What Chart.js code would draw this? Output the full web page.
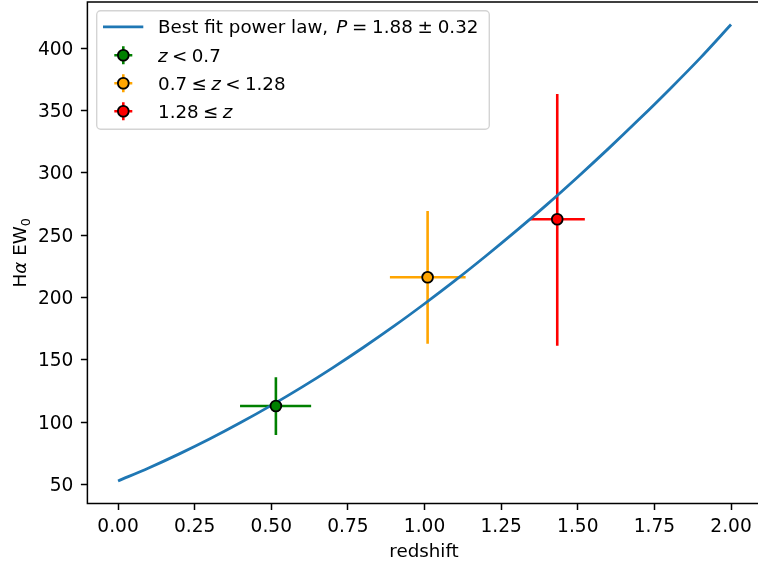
<!DOCTYPE html>
<html>
<head>
<meta charset="utf-8">
<title>Hα EW0 vs redshift</title>
<script src="https://cdn.jsdelivr.net/npm/chart.js@4.4.1/dist/chart.umd.min.js"></script>
<style>
  html, body { margin: 0; padding: 0; background: #fff; overflow: hidden; }
  #wrap { width: 758px; height: 563px; }
</style>
</head>
<body>
<div id="wrap"><canvas id="c" width="758" height="563"></canvas></div>
<script>
// Best-fit power-law curve, sampled along redshift
const fitZ  = [0.0, 0.1, 0.2, 0.3, 0.4, 0.5, 0.6, 0.7, 0.8, 0.9, 1.0,
               1.1, 1.2, 1.3, 1.4, 1.5, 1.6, 1.7, 1.8, 1.9, 2.0];
const fitEW = [53.0, 63.4, 74.7, 86.8, 99.8, 113.6, 128.2, 143.7, 160.0, 177.1, 195.1,
               213.8, 233.4, 253.7, 274.8, 296.8, 319.5, 343.0, 367.2, 392.3, 419.0];

// Binned measurements with their error ranges
const binZ    = [0.515, 1.010, 1.433];
const binEW   = [113.1, 216.3, 262.9];
const binZLo  = [0.398, 0.887, 1.344];
const binZHi  = [0.630, 1.134, 1.523];
const binEWLo = [89.9, 163.1, 161.5];
const binEWHi = [136.1, 269.5, 363.4];
const binColors = ['#008000', '#ffa500', '#ff0000'];

// Legend entries as text runs (i = italic, gap = space in px)
const fitLabel = [{t: 'Best fit power law,'}, {gap: 8}, {t: 'P', i: true}, {gap: 4.8}, {t: '='}, {gap: 4.8},
                  {t: '1.88'}, {gap: 4.8}, {t: '±'}, {gap: 4.8}, {t: '0.32'}];
const binLabels = [
  [{t: 'z', i: true}, {gap: 4.4}, {t: '<'}, {gap: 4.4}, {t: '0.7'}],
  [{t: '0.7'}, {gap: 4.4}, {t: '≤'}, {gap: 4.4}, {t: 'z', i: true}, {gap: 4.4}, {t: '<'}, {gap: 4.4}, {t: '1.28'}],
  [{t: '1.28'}, {gap: 4.4}, {t: '≤'}, {gap: 4.4}, {t: 'z', i: true}]
];

// Axis ranges, ticks and titles
const xMin = -0.1, xMax = 2.088;
const yMin = 34.9, yMax = 437.1;
const xTicks = [0, 0.25, 0.5, 0.75, 1.0, 1.25, 1.5, 1.75, 2.0];
const xTickLabels = ['0.00', '0.25', '0.50', '0.75', '1.00', '1.25', '1.50', '1.75', '2.00'];
const yTicks = [50, 100, 150, 200, 250, 300, 350, 400];
const yTickLabels = ['50', '100', '150', '200', '250', '300', '350', '400'];
const xTitle = 'redshift';
const yTitle = [{t: 'H'}, {t: 'α', i: true}, {t: ' EW'}, {t: '0', sub: true}];

const FONT = 'DejaVu Sans';
const FS = 18.3;

function fontFor(run, size) {
  return (run.i ? 'italic ' : '') + size + 'px "' + FONT + '"';
}
function runsWidth(ctx, runs) {
  let w = 0;
  for (const r of runs) {
    if (r.gap) { w += r.gap; continue; }
    ctx.font = fontFor(r, r.sub ? FS * 0.7 : FS);
    w += ctx.measureText(r.t).width;
  }
  return w;
}
function drawRuns(ctx, runs, x, y) {
  ctx.textBaseline = 'alphabetic';
  ctx.textAlign = 'left';
  for (const r of runs) {
    if (r.gap) { x += r.gap; continue; }
    const size = r.sub ? FS * 0.7 : FS;
    ctx.font = fontFor(r, size);
    ctx.fillText(r.t, x, y + (r.sub ? FS * 0.22 : 0));
    x += ctx.measureText(r.t).width;
  }
}

// Error bars sit beneath the markers and the fit curve
const errorBars = {
  id: 'errorBars',
  beforeDatasetsDraw(chart) {
    const {ctx, chartArea: a, scales: {x, y}} = chart;
    ctx.save();
    ctx.beginPath();
    ctx.rect(a.left, a.top, a.right - a.left, a.bottom - a.top);
    ctx.clip();
    ctx.lineWidth = 2.6;
    ctx.lineCap = 'butt';
    binZ.forEach((z, k) => {
      ctx.strokeStyle = binColors[k];
      const px = x.getPixelForValue(z), py = y.getPixelForValue(binEW[k]);
      ctx.beginPath();
      ctx.moveTo(x.getPixelForValue(binZLo[k]), py);
      ctx.lineTo(x.getPixelForValue(binZHi[k]), py);
      ctx.moveTo(px, y.getPixelForValue(binEWLo[k]));
      ctx.lineTo(px, y.getPixelForValue(binEWHi[k]));
      ctx.stroke();
    });
    ctx.restore();
  }
};

// Spines, axis titles and the framed legend
const frameAndLegend = {
  id: 'frameAndLegend',
  afterDatasetsDraw(chart) {
    const {ctx, chartArea: a} = chart;
    ctx.save();
    ctx.strokeStyle = '#000';
    ctx.lineWidth = 1.5;
    ctx.lineCap = 'square';
    ctx.beginPath();
    ctx.moveTo(a.right + 2, a.top);
    ctx.lineTo(a.left, a.top);
    ctx.lineTo(a.left, a.bottom);
    ctx.lineTo(a.right + 2, a.bottom);
    ctx.stroke();

    ctx.fillStyle = '#000';
    ctx.font = FS + 'px "' + FONT + '"';
    ctx.textAlign = 'center';
    ctx.textBaseline = 'alphabetic';
    ctx.fillText(xTitle, 424, 556.5);

    ctx.save();
    ctx.translate(25.5, (a.top + a.bottom) / 2);
    ctx.rotate(-Math.PI / 2);
    drawRuns(ctx, yTitle, -runsWidth(ctx, yTitle) / 2, 0);
    ctx.restore();

    // legend frame
    const L = 96.7, T = 10.7, R = 489.3, B = 129.3, rad = 4;
    ctx.beginPath();
    ctx.roundRect(L, T, R - L, B - T, rad);
    ctx.fillStyle = 'rgba(255,255,255,0.8)';
    ctx.fill();
    ctx.strokeStyle = 'rgba(204,204,204,0.85)';
    ctx.lineWidth = 1.4;
    ctx.stroke();

    const rows = [26.8, 55.3, 83.3, 111.3];
    const textX = 158, mx = 123.3;
    // fit curve entry
    ctx.strokeStyle = chart.data.datasets[3].borderColor;
    ctx.lineWidth = 2.8;
    ctx.lineCap = 'butt';
    ctx.beginPath();
    ctx.moveTo(103, rows[0]);
    ctx.lineTo(143.3, rows[0]);
    ctx.stroke();
    ctx.fillStyle = '#000';
    drawRuns(ctx, fitLabel, textX, rows[0] + 6.5);
    // binned entries
    binLabels.forEach((runs, k) => {
      const cy = rows[k + 1];
      ctx.strokeStyle = binColors[k];
      ctx.lineWidth = 2.6;
      ctx.beginPath();
      ctx.moveTo(mx - 9, cy); ctx.lineTo(mx + 9, cy);
      ctx.moveTo(mx, cy - 9); ctx.lineTo(mx, cy + 9);
      ctx.stroke();
      ctx.beginPath();
      ctx.arc(mx, cy, 5.4, 0, Math.PI * 2);
      ctx.fillStyle = binColors[k];
      ctx.fill();
      ctx.strokeStyle = '#000';
      ctx.lineWidth = 1.8;
      ctx.stroke();
      ctx.fillStyle = '#000';
      drawRuns(ctx, runs, textX, cy + 6.5);
    });
    ctx.restore();
  }
};

const tickFont = {family: FONT, size: 18.6};

const markerSets = binZ.map((z, k) => ({
  type: 'scatter',
  data: [{x: z, y: binEW[k]}],
  pointRadius: 5.4,
  pointBackgroundColor: binColors[k],
  pointBorderColor: '#000',
  pointBorderWidth: 1.8,
  order: 0
}));

function noEdgePadding(s) {
  s.paddingTop = 0; s.paddingBottom = 0;
  s.paddingLeft = 0; s.paddingRight = 0;
}

new Chart(document.getElementById('c'), {
  data: {
    datasets: [
      ...markerSets,
      {
        type: 'line',
        data: fitZ.map((z, k) => ({x: z, y: fitEW[k]})),
        borderColor: '#1f77b4',
        borderWidth: 2.8,
        pointRadius: 0,
        cubicInterpolationMode: 'monotone',
        fill: false,
        order: 1
      }
    ]
  },
  options: {
    responsive: false,
    animation: false,
    devicePixelRatio: 1,
    layout: {autoPadding: false, padding: {top: 2, left: 0, right: 0, bottom: 0}},
    plugins: {legend: {display: false}, tooltip: {enabled: false}},
    scales: {
      x: {
        type: 'linear',
        min: xMin, max: xMax,
        afterBuildTicks: s => { s.ticks = xTicks.map(v => ({value: v})); },
        afterFit: s => { s.height = 59.5; noEdgePadding(s); },
        ticks: {
          font: tickFont, color: '#000', padding: 6,
          maxRotation: 0, autoSkip: false,
          callback: (v, i) => xTickLabels[i]
        },
        grid: {drawOnChartArea: false, tickLength: 6.5, tickWidth: 1.5, tickColor: '#000'},
        border: {display: false}
      },
      y: {
        type: 'linear',
        min: yMin, max: yMax,
        afterBuildTicks: s => { s.ticks = yTicks.map(v => ({value: v})); },
        afterFit: s => { s.width = 87.4; noEdgePadding(s); },
        ticks: {
          font: tickFont, color: '#000', padding: 7.5,
          autoSkip: false, labelOffset: 1.5,
          callback: (v, i) => yTickLabels[i]
        },
        grid: {drawOnChartArea: false, tickLength: 6.5, tickWidth: 1.5, tickColor: '#000'},
        border: {display: false}
      }
    }
  },
  plugins: [errorBars, frameAndLegend]
});
</script>
</body>
</html>
